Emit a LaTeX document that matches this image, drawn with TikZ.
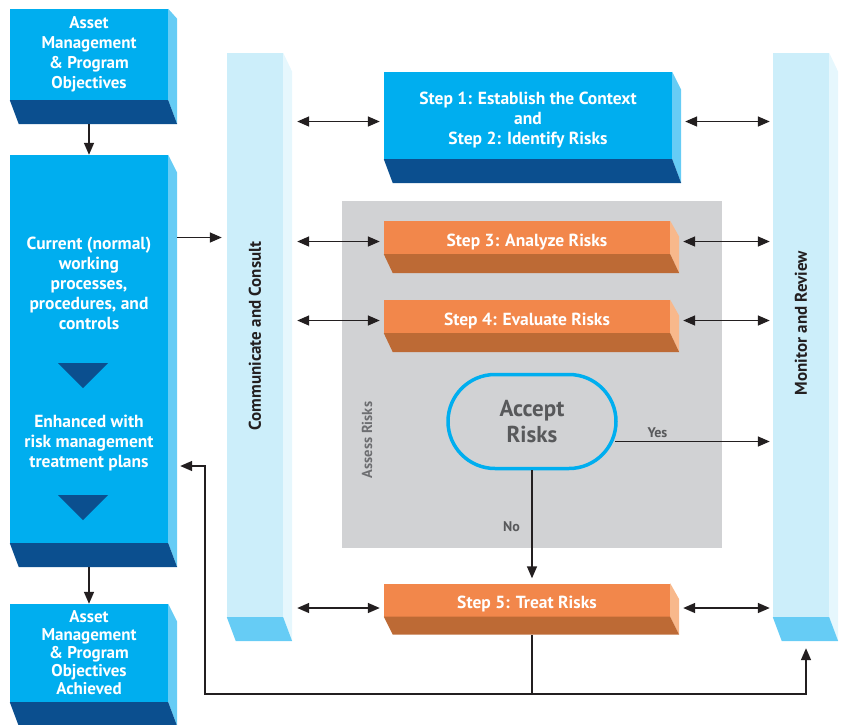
\documentclass[tikz,border=0pt]{standalone}
\usepackage{fontspec}
\setmainfont{PT Sans}
\usetikzlibrary{arrows.meta, positioning, shapes.misc}
\definecolor{procblue}{HTML}{00AEEF}
\definecolor{deepblue}{HTML}{0B4F8F}
\definecolor{sideblue}{HTML}{66CCF5}
\definecolor{colface}{HTML}{CCEEFA}
\definecolor{colside}{HTML}{E6F7FD}
\definecolor{stepor}{HTML}{F2874B}
\definecolor{stepdark}{HTML}{BD6A35}
\definecolor{stepside}{HTML}{F8B88B}
\definecolor{assessgray}{HTML}{D1D2D4}
\definecolor{inkgray}{HTML}{58595B}
\definecolor{labelgray}{HTML}{6D6E71}
\definecolor{ink}{HTML}{231F20}
% side face and bottom face of a box
\newcommand{\slab}[5]{%
  \fill[#2] (#1.north east) -- ++(9,#4) -- ([shift={(9pt,-#5pt)}]#1.south east) -- (#1.south east) -- cycle;
  \fill[#3] (#1.south west) -- (#1.south east) -- ++(9,#5) -- ([shift={(9pt,-#5pt)}]#1.south west) -- cycle;
}
\tikzset{
  bluebox/.style={
    rectangle, fill=procblue, text=white, inner sep=0pt,
    align=center, font=\fontsize{17}{20}\selectfont\bfseries
  },
  stepbox/.style={
    rectangle, fill=stepor, text=white, inner sep=0pt,
    minimum width=286pt, minimum height=33pt,
    text height=17pt, text depth=0pt,
    align=center, font=\fontsize{17.5}{20}\selectfont\bfseries
  },
  column/.style={
    rectangle, fill=colface, inner sep=0pt,
    minimum width=56pt, minimum height=564pt
  },
  collabel/.style={rotate=90, text=ink, font=\fontsize{17}{20}\selectfont\bfseries},
  boxtext/.style={text=white, align=center, font=\fontsize{17.5}{20}\selectfont\bfseries},
  decision/.style={
    rectangle, rounded corners=47pt, draw=procblue, line width=3.5pt,
    minimum width=168pt, minimum height=94pt,
    text=inkgray, align=center, font=\fontsize{23}{26}\selectfont\bfseries
  },
  small/.style={text=inkgray, font=\fontsize{14}{16}\selectfont\bfseries},
  arrow/.style={-{Triangle[length=12pt,width=10pt]}, line width=1.5pt, draw=ink},
  darrow/.style={{Triangle[length=12pt,width=10pt]}-{Triangle[length=12pt,width=10pt]}, line width=1.5pt, draw=ink},
  line/.style={line width=1.5pt, draw=ink}
}
\begin{document}
\begin{tikzpicture}[x=1pt, y=-1pt]
  \useasboundingbox (0,0) rectangle (841,724);

  % assess risks area
  \fill[assessgray] (342,201) rectangle (722,548);
  \node[rotate=90, text=labelgray, font=\fontsize{14.5}{16}\selectfont\bfseries] (assesslbl) at (367,440) {Assess Risks};

  % left column
  \node[bluebox, minimum width=158pt, minimum height=91pt] (goals) at (89,54.5) {Asset\\Management\\\& Program\\Objectives};
  \slab{goals}{sideblue}{deepblue}{10}{24}
  \node[bluebox, minimum width=158pt, minimum height=388pt] (work) at (89,349) {};
  \slab{work}{sideblue}{deepblue}{18}{24}
  \node[boxtext] (current) at (89,283) {Current (normal)\\working\\processes,\\procedures, and\\controls};
  \node[boxtext] (enhanced) at (89,443) {Enhanced with\\risk management\\treatment plans};
  \foreach \ty in {363,495}
    \fill[deepblue] (58,\ty) -- ++(50,0) -- ++(-25,25) -- cycle;
  \node[bluebox, minimum width=158pt, minimum height=98pt,
        font=\fontsize{17}{18}\selectfont\bfseries] (done) at (89,653) {Asset\\Management\\\& Program\\Objectives\\Achieved};
  \slab{done}{sideblue}{deepblue}{18}{24}

  % communicate / monitor columns
  \node[column] (comm) at (255,335) {};
  \slab{comm}{colside}{sideblue}{19}{24}
  \node[collabel] (commlbl) at (255,336) {Communicate and Consult};
  \node[column] (monitor) at (801,335) {};
  \slab{monitor}{colside}{sideblue}{19}{24}
  \node[collabel] (monlbl) at (801,323) {Monitor and Review};

  % steps
  \node[bluebox, minimum width=288pt, minimum height=87pt,
        text height=58pt, text depth=0pt,
        font=\fontsize{17.5}{20}\selectfont\bfseries] (step1) at (528,115.5) {Step 1: Establish the Context\\and\\Step 2: Identify Risks};
  \slab{step1}{sideblue}{deepblue}{18}{24}
  \node[stepbox] (step3) at (527,237.5) {Step 3: Analyze Risks};
  \slab{step3}{stepside}{stepdark}{16}{19}
  \node[stepbox] (step4) at (527,316.5) {Step 4: Evaluate Risks};
  \slab{step4}{stepside}{stepdark}{16}{19}
  \node[decision, text height=42pt, text depth=0pt] (accept) at (532,421.5) {Accept\\Risks};
  \node[stepbox] (step5) at (527,600) {Step 5: Treat Risks};
  \slab{step5}{stepside}{stepdark}{16}{18}

  % flow down the left
  \draw[arrow] ([yshift=-24pt]goals.south) -- (goals.south |- work.north);
  \draw[arrow] ([yshift=-24pt]work.south) -- (work.south |- done.north);
  \draw[arrow, shorten <=9pt, shorten >=5pt] (work.east |- step3.west) -- (comm.west |- step3.west);

  % exchanges with the two columns
  \draw[darrow, shorten <=5pt, shorten >=4pt] ([shift={(9pt,-6pt)}]comm.east |- step1.west) -- ([yshift=-6pt]step1.west);
  \draw[darrow, shorten <=4pt, shorten >=3pt] ([shift={(9pt,-6pt)}]step1.east) -- ([yshift=-6pt]monitor.west |- step1.east);
  \foreach \s/\dy in {step3/-4, step4/-4, step5/-8} {
    \draw[darrow, shorten <=5pt, shorten >=4pt] ([shift={(9pt,\dy pt)}]comm.east |- \s.west) -- ([yshift=\dy pt]\s.west);
    \draw[darrow, shorten <=4pt, shorten >=3pt] ([shift={(9pt,\dy pt)}]\s.east) -- ([yshift=\dy pt]monitor.west |- \s.east);
  }

  % decision
  \draw[arrow, shorten >=3pt] ([shift={(-3pt,-20pt)}]accept.east) -- node[small, above, pos=0.27] (yes) {Yes} ([yshift=-20pt]accept.east -| monitor.west);
  \draw[arrow, shorten >=5pt] (accept.south) -- node[small, left=8pt, pos=0.5] (no) {No} (accept.south |- step5.north);

  % feedback loop
  \coordinate (join) at (532,694);
  \coordinate (bend) at (205,466);
  \draw[line, shorten >=18pt] (join) -- (join |- step5.south);
  \draw[arrow] (join) -| (bend) -- ([xshift=12pt]work.east |- bend);
  \draw[arrow] (join) -| ([shift={(5pt,-31pt)}]monitor.south);
\end{tikzpicture}
\end{document}
